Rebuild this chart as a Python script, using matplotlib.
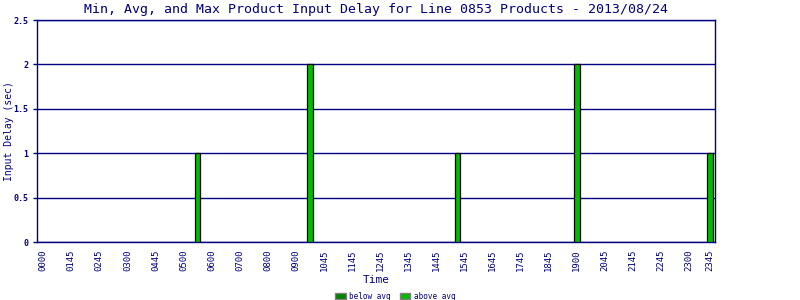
import matplotlib
matplotlib.use("Agg")
import matplotlib.pyplot as plt
from matplotlib.patches import Patch

# 96 time slots; a label every 4th slot plus the last slot
tick_labels = ["0000", "0145", "0245", "0300", "0445", "0500", "0600", "0700",
               "0800", "0900", "1045", "1145", "1245", "1345", "1445", "1545",
               "1645", "1745", "1845", "1900", "2045", "2145", "2245", "2300",
               "2345"]
n_slots = 96
bar_slots = [22, 38, 59, 76, 95]
below_avg = [0, 0, 0, 0, 0]
above_avg = [1, 2, 1, 2, 1]

navy = "#000080"
font = "DejaVu Sans Mono"

fig = plt.figure(figsize=(8, 3), dpi=100)
ax = fig.add_axes([0.046, 0.193, 0.848, 0.74])

ax.bar(bar_slots, below_avg, width=0.8, color="#008000", edgecolor="black", linewidth=0.9)
ax.bar(bar_slots, above_avg, bottom=below_avg, width=0.8, color="#00bb00",
       edgecolor="black", linewidth=0.9, zorder=3)

ax.set_xlim(-0.9, n_slots - 1 + 0.7)
ax.set_ylim(0, 2.5)
ax.set_yticks([0, 0.5, 1, 1.5, 2, 2.5])
ax.set_yticklabels(["0", "0.5", "1", "1.5", "2", "2.5"], fontsize=6, family=font,
                   color=navy, fontweight="bold")
ax.yaxis.grid(True, color=navy, linewidth=1)
ax.set_axisbelow(True)
ax.tick_params(axis="y", length=3, color=navy, width=1, pad=3)

tick_pos = list(range(0, n_slots - 3, 4)) + [n_slots - 1]
ax.set_xticks(tick_pos)
ax.set_xticklabels(tick_labels, rotation=90, fontsize=6.5, family=font, color=navy)
ax.tick_params(axis="x", length=0, pad=5)

for s in ax.spines.values():
    s.set_color(navy)
    s.set_linewidth(1)

ax.set_xlabel("Time", fontsize=8, family=font, color=navy, labelpad=3)
ax.set_ylabel("Input Delay (sec)", fontsize=7, family=font, color=navy)
ax.yaxis.set_label_coords(-0.034, 0.5)
ax.set_title("Min, Avg, and Max Product Input Delay for Line 0853 Products - 2013/08/24",
             fontsize=9.5, family=font, color=navy, pad=5)

handles = [Patch(facecolor="#008000", edgecolor="gray", label="below avg"),
           Patch(facecolor="#00bb00", edgecolor="gray", label="above avg")]
fig.legend(handles=handles, loc="lower center", bbox_to_anchor=(0.494, -0.025), ncol=2,
           frameon=False, prop={"family": font, "size": 5.5}, labelcolor=navy,
           handlelength=1.4, handleheight=0.9, handletextpad=0.4, columnspacing=1.2)

fig.savefig("out.png", dpi=100)
